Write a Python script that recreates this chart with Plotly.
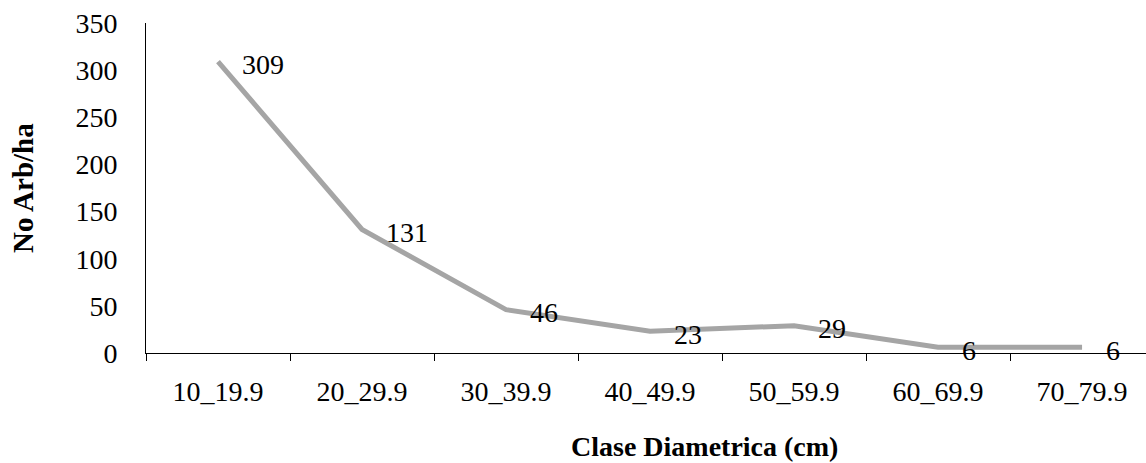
import plotly.graph_objects as go

# Diameter classes and tree density per hectare
clases = ["10_19.9", "20_29.9", "30_39.9", "40_49.9", "50_59.9", "60_69.9", "70_79.9"]
arboles_ha = [309, 131, 46, 23, 29, 6, 6]
y_ticks = [0, 50, 100, 150, 200, 250, 300, 350]

FONT = "Liberation Serif"

fig = go.Figure()
fig.add_trace(go.Scatter(
    x=clases, y=arboles_ha, mode="lines",
    line=dict(color="#A5A5A5", width=5),
    hoverinfo="skip", showlegend=False,
))

# Value labels to the right of each point
for c, v in zip(clases, arboles_ha):
    fig.add_annotation(
        x=c, y=v, text=str(v), showarrow=False,
        xanchor="left", yanchor="middle", xshift=22, yshift=-3,
        font=dict(family=FONT, size=28, color="black"),
    )

fig.add_annotation(
    xref="paper", yref="paper", x=0.558, y=-0.282,
    xanchor="center", yanchor="middle", showarrow=False,
    text="<b>Clase Diametrica (cm)</b>",
    font=dict(family=FONT, size=28, color="black"),
)
fig.add_annotation(
    xref="paper", yref="paper", x=-0.123, y=0.5,
    xanchor="center", yanchor="middle", showarrow=False, textangle=-90,
    text="<b>No Arb/ha</b>",
    font=dict(family=FONT, size=29, color="black"),
)

fig.update_layout(
    width=1146, height=463,
    margin=dict(l=146, r=0, t=23, b=110),
    paper_bgcolor="white", plot_bgcolor="white",
    font=dict(family=FONT, size=28, color="black"),
    xaxis=dict(
        type="category", categoryorder="array", categoryarray=clases,
        range=[-0.5, 6.444],
        showline=True, linecolor="black", linewidth=1,
        ticks="outside", tickson="boundaries", ticklen=7, tickcolor="black",
        showgrid=False, zeroline=False, ticklabelstandoff=13,
        tickfont=dict(family=FONT, size=28, color="black"),
    ),
    yaxis=dict(
        range=[0, 350], tickvals=y_ticks,
        showline=True, linecolor="black", linewidth=1,
        ticks="", showgrid=False, zeroline=False,
        ticklabelstandoff=22,
        tickfont=dict(family=FONT, size=28, color="black"),
    ),
)

fig.write_html("out.html")
